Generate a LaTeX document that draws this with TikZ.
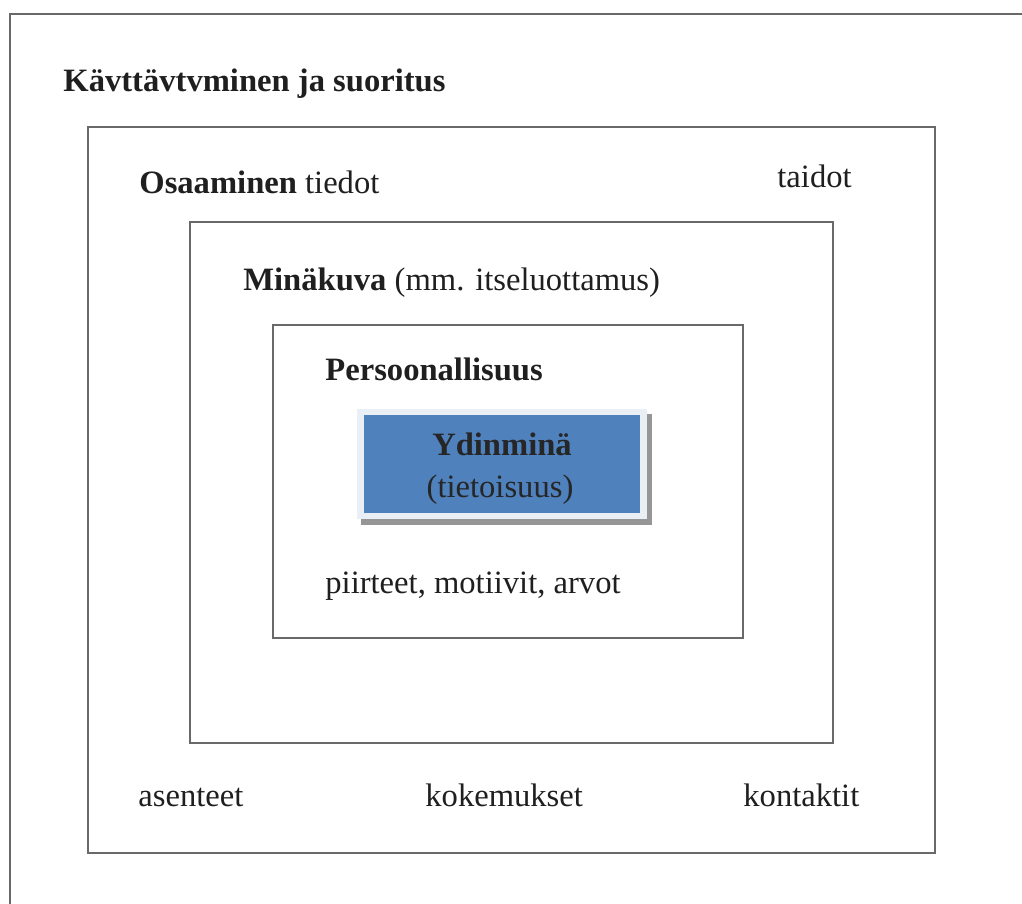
\documentclass[tikz,border=0pt]{standalone}
\usepackage{fontspec}
\setmainfont{Liberation Serif}
\usetikzlibrary{positioning}
\definecolor{framegray}{RGB}{105,105,105}
\definecolor{coreblue}{RGB}{79,129,189}
\definecolor{coreedge}{RGB}{234,239,246}
\definecolor{coreshade}{RGB}{150,150,150}
\tikzset{
  frame/.style={draw=framegray, line width=1.3pt},
  lbl/.style={anchor=base west, inner sep=0pt, font=\fontsize{16.3}{19}\selectfont, text=black!88},
  corelbl/.style={anchor=base, inner sep=0pt, font=\fontsize{16.3}{19}\selectfont, text=black!85}
}
\begin{document}
\begin{tikzpicture}[x=0.5pt, y=-0.5pt]
\useasboundingbox (0,0) rectangle (1022,904);
\clip (0,0) rectangle (1022,904);
\fill[white] (0,0) rectangle (1022,904);
% nested frames
\draw[frame] (10,14) rectangle (1060,950);
\draw[frame] (88,127) rectangle (935,853);
\draw[frame] (190,222) rectangle (833,743);
\draw[frame] (273,325) rectangle (743,638);
% core box with shadow
\fill[coreshade] (361,414) rectangle (652,525);
\fill[coreedge] (357,409) rectangle (647,519);
\fill[coreblue] (364,415) rectangle (640,513);
% labels
\node[lbl] (behaviour) at (63,91) {\textbf{Kävttävtvminen ja suoritus}};
\node[lbl] (osaaminen) at (139,193) {\textbf{Osaaminen} tiedot};
\node[lbl] (taidot) at (777,187) {taidot};
\node[lbl] (minakuva) at (243,290) {\textbf{Minäkuva} (mm. itseluottamus)};
\node[lbl] (persoona) at (325,380) {\textbf{Persoonallisuus}};
\node[corelbl] (ydin) at (502,455) {\textbf{Ydinminä}};
\node[corelbl] (tietoisuus) at (500,497) {(tietoisuus)};
\node[lbl] (piirteet) at (325,593) {piirteet, motiivit, arvot};
\node[lbl] (asenteet) at (138,806) {asenteet};
\node[lbl] (kokemukset) at (425,806) {kokemukset};
\node[lbl] (kontaktit) at (743,806) {kontaktit};
\end{tikzpicture}
\end{document}
